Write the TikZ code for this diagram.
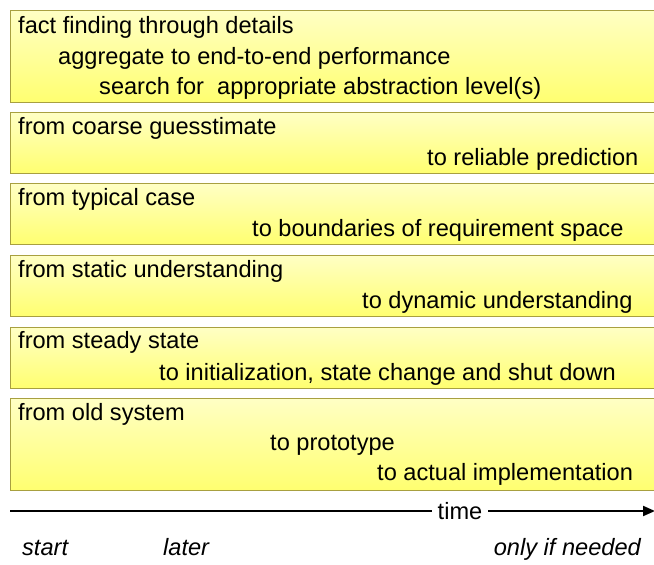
\documentclass[tikz,border=0pt]{standalone}
\usepackage{fontspec}
\setmainfont{Liberation Sans}
\usetikzlibrary{arrows.meta, positioning}
\definecolor{bandline}{HTML}{A8A040}
\definecolor{bandtop}{HTML}{FFFFC4}
\definecolor{bandbot}{HTML}{FFFF70}

\begin{document}
\begin{tikzpicture}[x=1pt, y=-1pt,
  band/.style={draw=bandline, line width=1pt, top color=bandtop, bottom color=bandbot,
    anchor=north west, minimum width=660pt, inner sep=0pt},
  txt/.style={font=\fontsize{23.6}{28}\selectfont, inner sep=0pt, anchor=base west},
  lbl/.style={txt, font=\fontsize{23.6}{28}\selectfont\itshape},
  arrow/.style={-{Triangle[length=12pt, width=10pt]}, line width=2pt}]
  \useasboundingbox (0,0) rectangle (654,565);
  \clip (0,0) rectangle (654,565);
  % bands
  \node[band, minimum height=92pt] (b1) at (10,10) {};
  \node[band, minimum height=61pt] (b2) at (10,112) {};
  \node[band, minimum height=61pt] (b3) at (10,183) {};
  \node[band, minimum height=61pt] (b4) at (10,255) {};
  \node[band, minimum height=61pt] (b5) at (10,327) {};
  \node[band, minimum height=92pt] (b6) at (10,398) {};
  % texts
  \node[txt] (f1) at (18,33) {fact finding through details};
  \node[txt] (f2) at (58,64) {aggregate to end-to-end performance};
  \node[txt] (f3) at (99,94) {search for\ \ appropriate abstraction level(s)};
  \node[txt] (g1) at (18,134) {from coarse guesstimate};
  \node[txt] (g2) at (427,165) {to reliable prediction};
  \node[txt] (c1) at (18,205) {from typical case};
  \node[txt] (c2) at (252,236) {to boundaries of requirement space};
  \node[txt] (s1) at (18,277) {from static understanding};
  \node[txt] (s2) at (362,308) {to dynamic understanding};
  \node[txt] (d1) at (18,348) {from steady state};
  \node[txt] (d2) at (159,380) {to initialization, state change and shut down};
  \node[txt] (o1) at (18,420) {from old system};
  \node[txt] (o2) at (270,450) {to prototype};
  \node[txt] (o3) at (377,480) {to actual implementation};
  % time axis
  \coordinate (ts) at (10,511);
  \coordinate (te) at (655,511);
  \node[txt, anchor=center, inner sep=6pt] (time) at (460,511) {time};
  \draw[line width=2pt] (ts) -- (time.west);
  \draw[arrow] (time.east) -- (te);
  \node[lbl] (start) at (22,555) {start};
  \node[lbl] (later) at (163,555) {later};
  \node[lbl, anchor=base east] (needed) at (641,555) {only if needed};
\end{tikzpicture}
\end{document}
